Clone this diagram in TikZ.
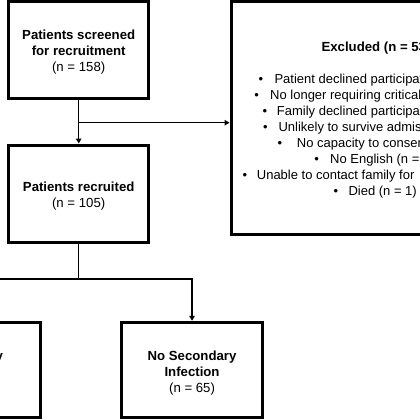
\documentclass[tikz,border=0pt]{standalone}
\usepackage{fontspec}
\setmainfont{Liberation Sans}
\usetikzlibrary{arrows.meta}
\tikzset{
  box/.style={draw, line width=3pt, rectangle, align=center, inner sep=0pt,
    font=\fontsize{13.2}{16}\selectfont\bfseries},
  conn/.style={line width=1.3pt},
  arr/.style={conn, -{Triangle[length=5pt,width=5.5pt]}},
  title/.style={anchor=base, inner sep=0pt, font=\fontsize{13.2}{16}\selectfont\bfseries},
  item/.style={anchor=base west, inner sep=0pt, font=\fontsize{13}{16}\selectfont},
  bul/.style={anchor=base, inner sep=0pt, font=\fontsize{13}{16}\selectfont},
}
\newcommand{\topstrut}[1]{\rule{0pt}{#1}}
\begin{document}
\begin{tikzpicture}[x=1pt,y=-1pt]
\useasboundingbox (0,0) rectangle (420,420);
\fill[white] (0,0) rectangle (420,420);
\clip (0,0) rectangle (420,420);
% boxes
\node[box, minimum width=140pt, minimum height=96.7pt] (s) at (78.7,49.65)
  {\topstrut{15pt}Patients screened\\for recruitment\\{\mdseries (n = 158)}};
\node[box, minimum width=140pt, minimum height=97pt] (r) at (78.7,193.5)
  {\topstrut{14.5pt}Patients recruited\\{\mdseries (n = 105)}};
\node[box, minimum width=290pt, minimum height=233.4pt] (e) at (376,118) {};
\node[box, minimum width=141.5pt, minimum height=94.7pt] (si) at (-30.75,369.65)
  {\topstrut{15.5pt}Secondary\\Infection\\{\mdseries (n = 40)}};
\node[box, minimum width=141.5pt, minimum height=94.7pt] (ns) at (192.05,369.65)
  {\topstrut{15.5pt}No Secondary\\Infection\\{\mdseries (n = 65)}};
% excluded contents
\node[title] (et) at (376,51.4) {Excluded (n = 53)};
\node[bul] (b1) at (261,83.2) {•};
\node[item] (i1) at (274.3,83.2) {Patient declined participation};
\node[bul] (b2) at (256.7,99.4) {•};
\node[item] (i2) at (270,99.4) {No longer requiring critical care};
\node[bul] (b3) at (265,115.7) {•};
\node[item] (i3) at (276.7,115.7) {Family declined participation};
\node[bul] (b4) at (265.5,131.7) {•};
\node[item] (i4) at (278.3,131.7) {Unlikely to survive admission};
\node[bul] (b5) at (280,147.4) {•};
\node[item] (i5) at (296.7,147.4) {No capacity to consent};
\node[bul] (b6) at (316.7,163.2) {•};
\node[item] (i6) at (330,163.2) {No English (n =};
\node[bul] (b7) at (245,179.2) {•};
\node[item] (i7) at (256.7,179.2) {Unable to contact family for};
\node[bul] (b8) at (336,195.2) {•};
\node[item] (i8) at (348.3,195.2) {Died (n = 1)};
% connectors
\coordinate (j1) at (78.7,122.7);
\coordinate (j2) at (78.7,279);
\draw[arr] (s.south) -- (r.north);
\draw[arr] (j1) -- (j1 -| e.west);
\draw[conn] (r.south) -- (j2);
\draw[arr] (j2) -| (ns.north);
\draw[arr] (j2) -| (si.north);
\end{tikzpicture}
\end{document}
